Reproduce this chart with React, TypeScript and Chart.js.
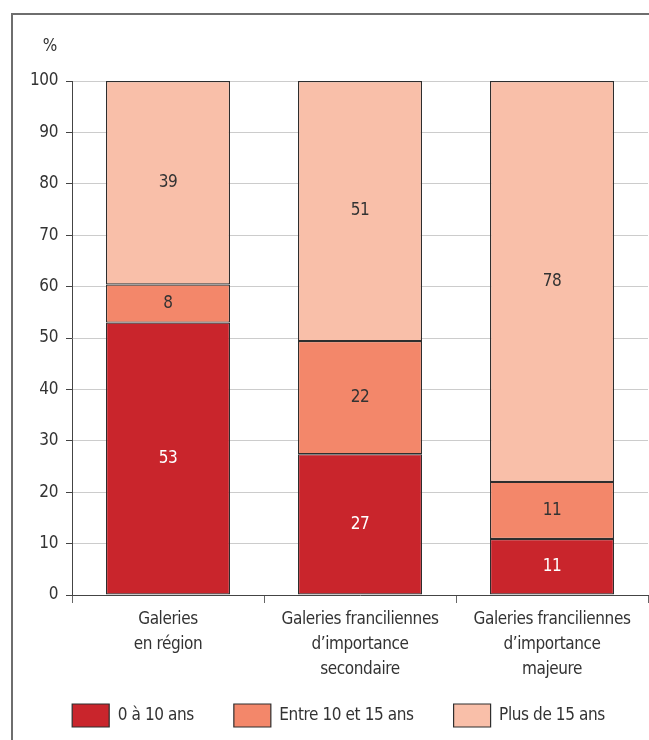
import React, { useEffect, useRef } from "react";
import { Chart, registerables } from "chart.js";

Chart.register(...registerables);

const categories: string[][] = [
  ["Galeries", "en région"],
  ["Galeries franciliennes", "d’importance", "secondaire"],
  ["Galeries franciliennes", "d’importance", "majeure"],
];
const seriesNames = ["0 à 10 ans", "Entre 10 et 15 ans", "Plus de 15 ans"];
const young = [53.0, 27.4, 10.9];
const middle = [7.4, 22.0, 11.1];
const older = [39.6, 50.6, 78.0];
const youngLabels = ["53", "27", "11"];
const middleLabels = ["8", "22", "11"];
const olderLabels = ["39", "51", "78"];
const yTicks = [0, 10, 20, 30, 40, 50, 60, 70, 80, 90, 100];
const unitLabel = "%";

const FONT = '"DejaVu Sans Condensed", "DejaVu Sans", sans-serif';
const FS = 17;
const SPACING = "-0.4px";
const TEXT = "#333333";
const colors = ["#C9252C", "#F3876A", "#F9BFA9"];
const labelColors = ["#FFFFFF", TEXT, TEXT];
const valueLabels = [youngLabels, middleLabels, olderLabels];

const setSpacing = (chart: any) => {
  try { (chart.ctx as any).letterSpacing = SPACING; } catch (e) {}
};

const overlayPlugin = {
  id: "overlay",
  beforeUpdate: setSpacing,
  beforeLayout: setSpacing,
  beforeDraw: setSpacing,
  afterDatasetsDraw(chart: any) {
    const ctx = chart.ctx;
    ctx.save();
    ctx.font = `${FS}px ${FONT}`;
    ctx.textAlign = "center";
    ctx.textBaseline = "middle";
    chart.data.datasets.forEach((ds: any, di: number) => {
      const meta = chart.getDatasetMeta(di);
      meta.data.forEach((el: any, i: number) => {
        const y = (el.y + el.base) / 2;
        ctx.fillStyle = labelColors[di];
        ctx.fillText(valueLabels[di][i], el.x, y);
      });
    });
    ctx.textAlign = "right";
    ctx.fillStyle = TEXT;
    ctx.fillText(unitLabel, 57, 47);
    ctx.restore();
  },
};

const noClip = (s: any) => { s._computeLabelArea = () => undefined; };

export default function App() {
  const ref = useRef<HTMLCanvasElement | null>(null);
  useEffect(() => {
    if (!ref.current) return;
    const chart = new Chart(ref.current, {
      type: "bar",
      data: {
        labels: categories,
        datasets: [young, middle, older].map((d, i) => ({
          label: seriesNames[i],
          data: d,
          backgroundColor: colors[i],
          borderColor: "#2e2e2e",
          borderWidth: 1.2,
          borderSkipped: false,
          barPercentage: 124 / 192,
          categoryPercentage: 1,
        })),
      },
      options: {
        responsive: false,
        animation: false,
        devicePixelRatio: 1,
        layout: { padding: { top: 81, left: 29, right: 1, bottom: 3 } },
        plugins: {
          tooltip: { enabled: false },
          legend: {
            position: "bottom",
            labels: {
              boxWidth: 37,
              boxHeight: 23,
              padding: 40,
              color: TEXT,
              font: { family: FONT, size: FS },
            },
          },
        },
        scales: {
          x: {
            stacked: true,
            afterFit: (s: any) => { s.height = 69; noClip(s); },
            grid: { display: true, drawOnChartArea: false, offset: true, tickLength: 8, tickColor: "#666", color: "#666" },
            border: { display: true, color: "#444", width: 1 },
            ticks: { color: TEXT, padding: 4, maxRotation: 0, autoSkip: false, font: { family: FONT, size: FS, lineHeight: 1.47 } },
          },
          y: {
            stacked: true,
            min: 0,
            max: 100,
            afterFit: (s: any) => { s.width = 43; noClip(s); },
            afterBuildTicks: (s: any) => { s.ticks = yTicks.map((v) => ({ value: v })); },
            grid: { color: "#cccccc", tickColor: "#444", tickLength: 6 },
            border: { display: true, color: "#444", width: 1 },
            ticks: { color: TEXT, padding: 8, font: { family: FONT, size: FS } },
          },
        },
      },
      plugins: [overlayPlugin],
    });
    return () => chart.destroy();
  }, []);

  return (
    <div style={{ position: "fixed", left: 0, top: 0, width: 649, height: 740, overflow: "hidden", background: "#fff" }}>
      <div style={{ position: "absolute", left: 11, top: 13, width: 700, height: 800, borderTop: "2px solid #6e6e6e", borderLeft: "2px solid #6e6e6e" }} />
      <canvas ref={ref} width={649} height={740} style={{ position: "absolute", left: 0, top: 0, width: 649, height: 740 }} />
    </div>
  );
}
